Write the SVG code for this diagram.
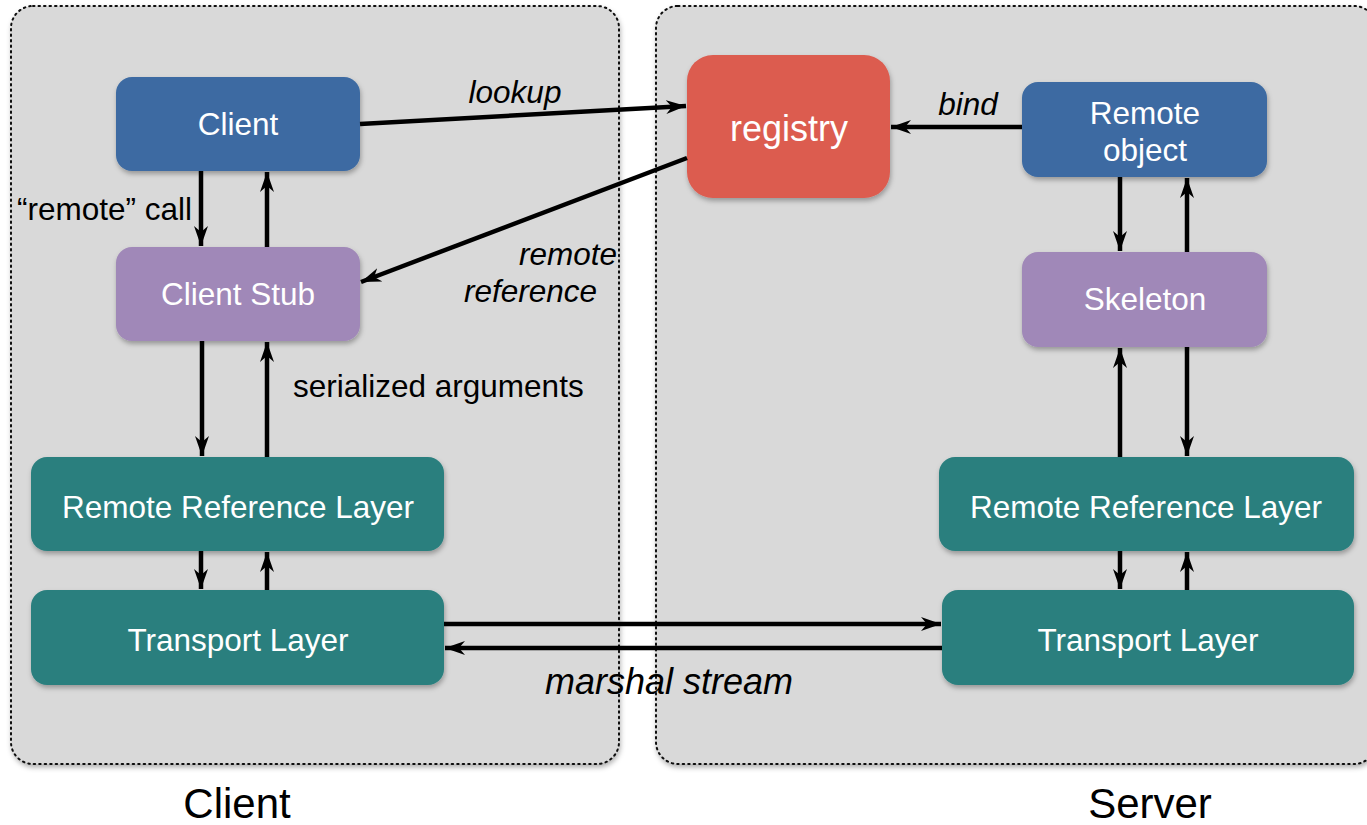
<svg xmlns="http://www.w3.org/2000/svg" width="1367" height="825" viewBox="0 0 1367 825">
<defs>
<filter id="sh" x="-10%" y="-10%" width="130%" height="140%">
<feDropShadow dx="1" dy="3" stdDeviation="2.5" flood-color="#000" flood-opacity="0.3"/>
</filter>
<marker id="ah" markerUnits="userSpaceOnUse" markerWidth="22" markerHeight="16" refX="20" refY="8" orient="auto">
<path d="M0,1 L20,8 L0,15 L6,8 Z" fill="#000"/>
</marker>
<style>
.panel{fill:#d9d9d9;stroke:#111;stroke-width:2;stroke-dasharray:1.5 4;stroke-linecap:round}
.node text{font-family:"Liberation Sans",Arial,sans-serif;fill:#fff;font-size:31.5px;text-anchor:middle}
.blue{fill:#3c6aa2}
.purple{fill:#a088b8}
.teal{fill:#2a7f7e}
.red{fill:#dc5b4f}
.conn line{stroke:#000;stroke-width:4.5;marker-end:url(#ah)}
.lbl{font-family:"Liberation Sans",Arial,sans-serif;font-size:31.5px;fill:#000}
.it{font-style:italic}
</style>
</defs>
<rect width="1367" height="825" fill="#fff"/>
<g id="client-panel"><rect class="panel" x="11" y="6" width="608" height="758" rx="22" filter="url(#sh)"/></g>
<g id="server-panel"><rect class="panel" x="656" y="6" width="720" height="758" rx="22" filter="url(#sh)"/></g>

<g id="client" class="node"><rect class="blue" x="116" y="77" width="244" height="94" rx="16" filter="url(#sh)"/><text x="238" y="135">Client</text></g>
<g id="client-stub" class="node"><rect class="purple" x="116" y="247" width="244" height="94" rx="16" filter="url(#sh)"/><text x="238" y="305">Client Stub</text></g>
<g id="client-rrl" class="node"><rect class="teal" x="31" y="457" width="413" height="94" rx="16" filter="url(#sh)"/><text x="238" y="518">Remote Reference Layer</text></g>
<g id="client-tl" class="node"><rect class="teal" x="31" y="590" width="413" height="95" rx="16" filter="url(#sh)"/><text x="238" y="651">Transport Layer</text></g>
<g id="registry" class="node"><rect class="red" x="687" y="55" width="203" height="143" rx="26" filter="url(#sh)"/><text x="789" y="141" style="font-size:36px">registry</text></g>
<g id="remote-object" class="node"><rect class="blue" x="1022" y="82" width="245" height="95" rx="16" filter="url(#sh)"/><text x="1145" y="124">Remote</text><text x="1145" y="161">object</text></g>
<g id="skeleton" class="node"><rect class="purple" x="1022" y="252" width="245" height="95" rx="16" filter="url(#sh)"/><text x="1145" y="310">Skeleton</text></g>
<g id="server-rrl" class="node"><rect class="teal" x="939" y="457" width="415" height="94" rx="16" filter="url(#sh)"/><text x="1146" y="518">Remote Reference Layer</text></g>
<g id="server-tl" class="node"><rect class="teal" x="942" y="590" width="412" height="95" rx="16" filter="url(#sh)"/><text x="1148" y="651">Transport Layer</text></g>

<g id="connectors" class="conn">
<line x1="201" y1="171" x2="201" y2="246"/>
<line x1="267" y1="247" x2="267" y2="172"/>
<line x1="202" y1="341" x2="202" y2="456"/>
<line x1="267" y1="457" x2="267" y2="342"/>
<line x1="201" y1="551" x2="201" y2="589"/>
<line x1="267" y1="590" x2="267" y2="552"/>
<line x1="360" y1="124" x2="686" y2="106"/>
<line x1="687" y1="158" x2="361" y2="282"/>
<line x1="1022" y1="127" x2="891" y2="127"/>
<line x1="1120" y1="177" x2="1120" y2="251"/>
<line x1="1187" y1="252" x2="1187" y2="178"/>
<line x1="1120" y1="457" x2="1120" y2="348"/>
<line x1="1187" y1="347" x2="1187" y2="456"/>
<line x1="1120" y1="551" x2="1120" y2="589"/>
<line x1="1187" y1="590" x2="1187" y2="552"/>
<line x1="444" y1="624" x2="941" y2="624"/>
<line x1="942" y1="648" x2="445" y2="648"/>
</g>

<g id="labels">
<text class="lbl it" x="515" y="103" text-anchor="middle">lookup</text>
<text class="lbl it" x="968" y="115" text-anchor="middle">bind</text>
<text class="lbl" x="17" y="220">“remote” call</text>
<text class="lbl it" x="617" y="265" text-anchor="end">remote</text>
<text class="lbl it" x="597" y="302" text-anchor="end">reference</text>
<text class="lbl" x="293" y="397">serialized arguments</text>
<text class="lbl it" x="545" y="694" style="font-size:36px">marshal stream</text>
<text class="lbl" x="237" y="818" text-anchor="middle" style="font-size:42px">Client</text>
<text class="lbl" x="1150" y="818" text-anchor="middle" style="font-size:42px">Server</text>
</g>
</svg>
